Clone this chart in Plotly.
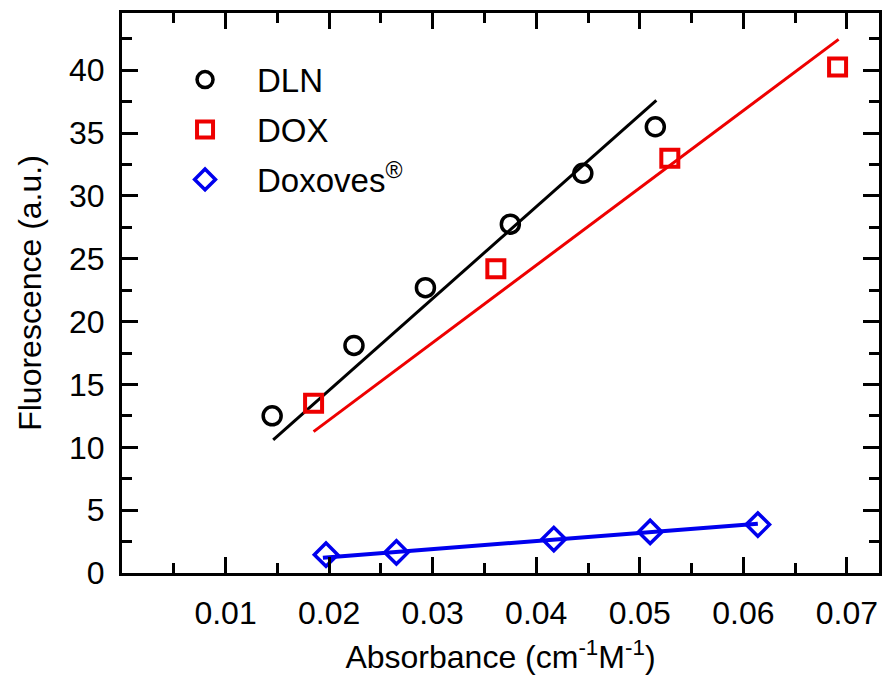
import plotly.graph_objects as go

# ---- data ----
dln_x = [0.0145, 0.0224, 0.0293, 0.0375, 0.0445, 0.0515]
dln_y = [12.5, 18.1, 22.7, 27.75, 31.8, 35.5]
dln_fit_x = [0.0146, 0.0516]
dln_fit_y = [10.6, 37.6]

dox_x = [0.0185, 0.0361, 0.0529, 0.0691]
dox_y = [13.5, 24.2, 33.0, 40.25]
dox_fit_x = [0.0185, 0.0692]
dox_fit_y = [11.25, 42.45]

doxo_x = [0.0197, 0.0265, 0.0417, 0.0510, 0.0614]
doxo_y = [1.46, 1.64, 2.70, 3.27, 3.85]
doxo_fit_x = [0.0194, 0.0614]
doxo_fit_y = [1.22, 3.92]

x_ticks = [0.01, 0.02, 0.03, 0.04, 0.05, 0.06, 0.07]
x_tick_labels = ["0.01", "0.02", "0.03", "0.04", "0.05", "0.06", "0.07"]
y_ticks = [0, 5, 10, 15, 20, 25, 30, 35, 40]

BLACK = "#000000"
RED = "#ee0000"
BLUE = "#0000ee"
FONT = "Liberation Sans, Arial, sans-serif"

fig = go.Figure()

# fit lines
fig.add_trace(go.Scatter(x=dln_fit_x, y=dln_fit_y, mode="lines",
                         line=dict(color=BLACK, width=3), showlegend=False))
fig.add_trace(go.Scatter(x=dox_fit_x, y=dox_fit_y, mode="lines",
                         line=dict(color=RED, width=3), showlegend=False))
fig.add_trace(go.Scatter(x=doxo_fit_x, y=doxo_fit_y, mode="lines",
                         line=dict(color=BLUE, width=4), showlegend=False))

# data points
fig.add_trace(go.Scatter(x=dln_x, y=dln_y, mode="markers", name="DLN",
                         legendgroup="a",
                         marker=dict(symbol="circle-open", size=18, color=BLACK,
                                     line=dict(width=3.5, color=BLACK))))
fig.add_trace(go.Scatter(x=dox_x, y=dox_y, mode="markers", name="DOX",
                         legendgroup="b",
                         marker=dict(symbol="square-open", size=17, color=RED,
                                     line=dict(width=4, color=RED))))
fig.add_trace(go.Scatter(x=doxo_x, y=doxo_y, mode="markers",
                         name="Doxoves<sup>®</sup>", legendgroup="c",
                         marker=dict(symbol="diamond-open", size=18, color=BLUE,
                                     line=dict(width=3.5, color=BLUE))))

axis_common = dict(
    showline=True, linecolor=BLACK, linewidth=3, mirror="allticks",
    ticks="inside", ticklen=16, tickwidth=3, tickcolor=BLACK,
    showgrid=False, zeroline=False,
    tickfont=dict(family=FONT, size=32, color=BLACK),
)

fig.update_xaxes(
    range=[0, 0.0731], tickvals=x_ticks, ticktext=x_tick_labels,
    minor=dict(ticks="inside", ticklen=10, tickwidth=3, tickcolor=BLACK, dtick=0.005, tick0=0),
    title=dict(text="Absorbance (cm<sup>-1</sup>M<sup>-1</sup>)",
               font=dict(family=FONT, size=32, color=BLACK), standoff=16),
    ticklabelstandoff=10,
    **axis_common,
)
fig.update_yaxes(
    range=[0, 44.55], tickvals=y_ticks,
    minor=dict(ticks="inside", ticklen=10, tickwidth=3, tickcolor=BLACK, dtick=2.5, tick0=0),
    title=dict(text="Fluorescence (a.u.)",
               font=dict(family=FONT, size=32, color=BLACK), standoff=18),
    ticklabelstandoff=8,
    **axis_common,
)

fig.update_layout(
    width=888, height=683,
    margin=dict(l=122, r=6, t=13, b=110),
    paper_bgcolor="white", plot_bgcolor="white",
    font=dict(family=FONT, color=BLACK),
    legend=dict(x=0.041, y=0.931, xanchor="left", yanchor="top",
                bgcolor="rgba(0,0,0,0)", borderwidth=0,
                font=dict(family=FONT, size=33, color=BLACK),
                itemsizing="trace", itemwidth=94, tracegroupgap=4),
)

# remove the browser's default 8px body margin so the figure sits at (0, 0)
fig.write_html(
    "out.html",
    config={"displayModeBar": False},
    post_script="document.body.style.margin='0';document.body.style.overflow='hidden';",
)
